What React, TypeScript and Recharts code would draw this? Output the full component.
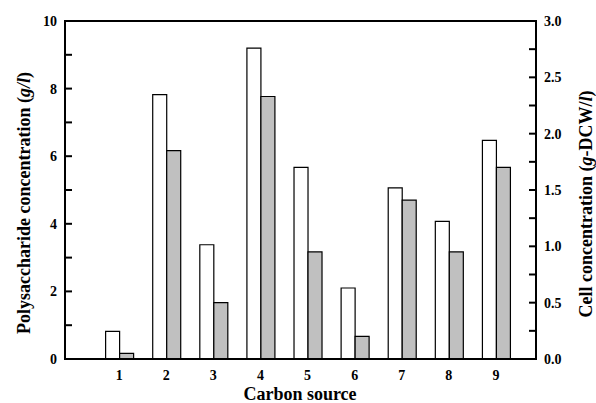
import React from 'react';
import { BarChart, Bar, XAxis, YAxis } from 'recharts';

// carbon source number -> polysaccharide (g/l, left axis) and cell mass (g-DCW/l, right axis)
const sources = [1, 2, 3, 4, 5, 6, 7, 8, 9];
const polysaccharide = [0.82, 7.82, 3.38, 9.2, 5.67, 2.1, 5.06, 4.07, 6.47];
const cellConc = [0.05, 1.85, 0.5, 2.33, 0.95, 0.2, 1.41, 0.95, 1.7];

const xDomain = [-0.15, 9.85];
const leftTicks = [0, 1, 2, 3, 4, 5, 6, 7, 8, 9, 10];
const rightTicks = [0, 0.25, 0.5, 0.75, 1, 1.25, 1.5, 1.75, 2, 2.25, 2.5, 2.75, 3];

const data = sources.map((s, i) => ({
  source: s,
  poly: polysaccharide[i],
  cell: cellConc[i],
}));

const FONT = '"Liberation Serif", "Times New Roman", Times, serif';
const GAP = 8;
const textStyle = { fontFamily: FONT, fontWeight: 700 };

const LeftTick = (props: any) => {
  const { payload } = props;
  const x = Number(props.x);
  const y = Number(props.y);
  const major = payload.value % 2 === 0;
  return (
    <g>
      <path d={`M${x + GAP},${y}h7`} stroke="#000" strokeWidth={2} fill="none" />
      {major && (
        <text x={x} y={y} dy={5} textAnchor="end" style={textStyle} fontSize={14} fill="#000">
          {payload.value}
        </text>
      )}
    </g>
  );
};

const RightTick = (props: any) => {
  const { payload } = props;
  const x = Number(props.x);
  const y = Number(props.y);
  const major = Math.round(payload.value * 100) % 50 === 0;
  return (
    <g>
      <path d={`M${x - GAP},${y}h-7`} stroke="#000" strokeWidth={2} fill="none" />
      {major && (
        <text x={x} y={y} dy={5} textAnchor="start" style={textStyle} fontSize={14} fill="#000">
          {payload.value.toFixed(1)}
        </text>
      )}
    </g>
  );
};

const XTick = (props: any) => {
  const { payload } = props;
  return (
    <text x={Number(props.x)} y={Number(props.y)} dy={17} textAnchor="middle" style={textStyle} fontSize={14} fill="#000">
      {payload.value}
    </text>
  );
};

// axis titles as html, centred on a point and rotated where needed
const titleBase: React.CSSProperties = {
  position: 'absolute',
  fontFamily: FONT,
  fontWeight: 700,
  fontSize: 18,
  lineHeight: '18px',
  whiteSpace: 'nowrap',
  color: '#000',
  pointerEvents: 'none',
};

const Title = ({ cx, cy, rotate, children }: { cx: number; cy: number; rotate?: boolean; children: React.ReactNode }) => (
  <div
    style={{
      ...titleBase,
      left: cx,
      top: cy,
      transform: `translate(-50%, -50%)${rotate ? ' rotate(-90deg)' : ''}`,
    }}
  >
    {children}
  </div>
);

const App: React.FC = () => {
  return (
    <div style={{ position: 'absolute', left: 0, top: 0, width: 596, height: 403, background: '#fff' }}>
      <BarChart
        width={596}
        height={403}
        data={data}
        margin={{ top: 21, right: 0, bottom: 0, left: 0 }}
        barGap={0}
        barSize={14}
      >
        <XAxis
          dataKey="source"
          type="number"
          domain={xDomain}
          ticks={sources}
          interval={0}
          height={44}
          stroke="#000"
          tickLine={false}
          tick={<XTick />}
          tickSize={0}
          tickMargin={4}
        />
        <YAxis
          yAxisId="left"
          orientation="left"
          width={65}
          domain={[0, 10]}
          ticks={leftTicks}
          interval={0}
          stroke="#000"
          strokeWidth={2}
          tickLine={false}
          tickSize={0}
          tickMargin={GAP}
          tick={<LeftTick />}
        />
        <YAxis
          yAxisId="right"
          orientation="right"
          width={60}
          domain={[0, 3]}
          ticks={rightTicks}
          interval={0}
          stroke="#000"
          strokeWidth={2}
          tickLine={false}
          tickSize={0}
          tickMargin={GAP}
          tick={<RightTick />}
        />
        <Bar yAxisId="left" dataKey="poly" fill="#ffffff" stroke="#000" strokeWidth={1.2} isAnimationActive={false} />
        <Bar yAxisId="right" dataKey="cell" fill="#c0c0c0" stroke="#000" strokeWidth={1.2} isAnimationActive={false} />
      </BarChart>

      {/* frame round the plot area */}
      <div
        style={{
          position: 'absolute',
          left: 64,
          top: 20,
          width: 473,
          height: 340,
          border: '2px solid #000',
          boxSizing: 'border-box',
          pointerEvents: 'none',
        }}
      />

      <Title cx={24} cy={203} rotate>
        Polysaccharide concentration (<i>g/l</i>)
      </Title>
      <Title cx={586} cy={204} rotate>
        Cell concentration (<i>g</i>-DCW/<i>l</i>)
      </Title>
      <Title cx={300} cy={394}>Carbon source</Title>
    </div>
  );
};

export default App;
